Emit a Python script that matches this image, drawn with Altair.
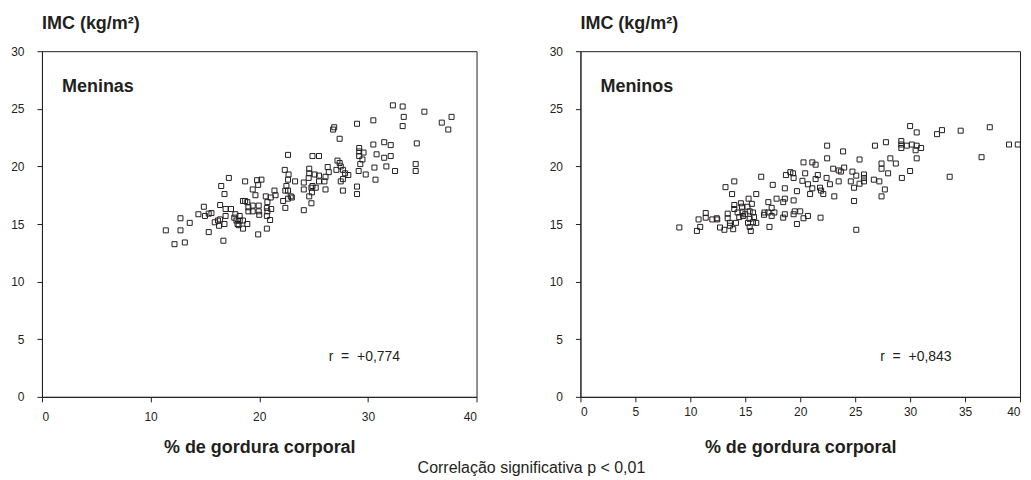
import altair as alt
import pandas as pd

# ---- Data (Meninas / girls) ----
girls_x = [22.65, 22.35, 22.7, 22.65, 23.3, 22.5, 22.65, 22.4, 22.2, 22.65, 23.0, 22.9, 22.4,
           17.2, 16.5, 16.8, 18.7, 19.8, 20.2, 19.9, 19.4, 19.65, 21.4, 21.5, 21.05, 20.6,
           18.5, 18.7, 18.9, 20.75, 19.0, 19.4, 19.95, 20.7, 21.1, 19.95, 20.0, 20.75, 19.0,
           19.4, 20.7, 21.0, 20.7, 19.9, 14.9, 16.4, 16.9, 17.4, 14.4, 15.0, 15.35, 15.6,
           12.75, 13.6, 16.9, 16.4, 16.2, 15.9, 16.8, 16.3, 17.8, 18.2, 17.7, 17.9, 18.2,
           18.5, 18.0, 18.1, 18.9, 18.5, 11.4, 12.75, 15.35, 13.15, 12.2, 16.7,
           32.3, 33.2, 35.2, 37.7, 36.8, 37.4, 33.3, 33.2, 30.5, 29.0, 26.9, 26.8, 27.4,
           30.5, 31.5, 32.1, 34.5, 29.2, 29.2, 29.6, 29.2, 29.5, 29.3, 30.8, 31.5, 32.1,
           30.6, 31.7, 32.5, 34.4, 34.4, 29.15, 29.8, 30.7, 29.0, 29.0, 24.9, 25.5, 27.2,
           27.4, 26.3, 27.1, 27.5, 27.7, 27.9, 28.2, 26.4, 27.7, 27.5, 24.6, 24.6, 25.1,
           25.5, 26.1, 24.55, 25.5, 26.0, 24.1, 24.9, 25.2, 24.8, 24.1, 24.85, 26.1, 27.7,
           24.6, 24.8, 24.1]
girls_y = [21.0, 19.7, 19.3, 18.85, 18.7, 18.3, 17.9, 17.9, 17.0, 17.2, 17.3, 17.4, 16.4,
           19.0, 18.3, 17.6, 18.7, 18.8, 18.85, 18.4, 18.0, 17.5, 17.9, 17.5, 17.3, 17.4,
           17.0, 17.0, 16.9, 16.9, 16.45, 16.6, 16.6, 16.4, 16.3, 16.1, 15.8, 16.1, 16.1,
           16.1, 15.7, 15.35, 14.6, 14.1, 16.5, 16.65, 16.3, 16.3, 15.85, 15.7, 15.9, 15.95,
           15.5, 15.1, 15.7, 15.4, 15.3, 15.15, 15.0, 14.85, 15.85, 15.7, 15.55, 15.3, 15.3,
           15.3, 15.0, 14.9, 15.0, 14.6, 14.45, 14.45, 14.3, 13.4, 13.25, 13.55,
           25.3, 25.2, 24.75, 24.3, 23.8, 23.2, 24.3, 23.5, 24.0, 23.7, 23.4, 23.2, 22.4,
           21.9, 22.1, 21.85, 22.0, 21.6, 21.3, 21.2, 20.9, 20.6, 20.2, 21.05, 20.75, 20.9,
           19.9, 20.0, 19.6, 20.2, 19.6, 19.6, 19.3, 18.85, 18.25, 17.6, 20.9, 20.9, 20.5,
           20.3, 19.95, 19.7, 20.0, 19.7, 19.4, 19.25, 19.5, 18.9, 18.7, 19.8, 19.4, 19.3,
           19.2, 19.1, 19.0, 18.7, 18.7, 18.6, 18.3, 18.15, 18.15, 18.0, 17.75, 18.0, 17.9,
           17.4, 16.8, 16.2]

# ---- Data (Meninos / boys) ----
boys_x = [22.45, 22.45, 20.3, 21.1, 21.4, 23.0, 18.7, 19.1, 19.35, 19.4, 20.45, 21.6, 21.4,
          22.4, 22.7, 20.2, 20.7, 21.1, 21.8, 21.9, 22.1, 20.9, 23.1, 16.45, 17.5, 18.6,
          19.7, 14.0, 13.2, 13.8, 16.0, 15.3, 17.85, 18.6, 18.45, 19.4, 17.1, 14.0, 14.6,
          14.7, 15.2, 15.6, 14.0, 14.3, 14.75, 15.4, 15.7, 15.0, 14.45, 14.8, 15.8, 15.4,
          13.4, 13.4, 11.4, 11.4, 10.75, 12.0, 12.4, 12.45, 13.6, 14.15, 15.25, 15.7, 16.0,
          16.75, 16.7, 17.1, 17.4, 17.4, 17.65, 18.45, 18.6, 19.4, 19.5, 20.0, 20.3, 20.7,
          19.7, 21.85, 9.0, 10.9, 10.6, 12.7, 13.1, 13.6, 13.9, 15.4, 15.5, 17.2,
          30.0, 30.6, 32.45, 32.9, 34.6, 37.25, 39.0, 39.8, 36.5, 33.6, 29.2, 29.2, 29.2,
          29.7, 30.15, 30.6, 30.5, 31.0, 30.6, 27.8, 26.8, 28.2, 28.7, 30.0, 29.25, 28.0,
          27.4, 27.4, 26.7, 27.2, 27.7, 27.4, 25.4, 23.9, 23.5, 23.7, 24.0, 24.75, 25.1,
          25.8, 25.8, 25.8, 25.4, 24.9, 24.6, 23.5, 24.9, 25.1]
boys_y = [21.8, 20.7, 20.35, 20.35, 20.15, 19.8, 19.25, 19.5, 19.4, 19.0, 19.4, 19.25, 18.9,
          19.0, 18.45, 18.75, 18.45, 18.1, 18.15, 17.9, 17.6, 17.6, 17.4, 19.1, 18.4, 18.1,
          17.85, 18.7, 18.2, 17.6, 17.6, 17.2, 17.2, 17.2, 16.9, 17.05, 16.9, 16.65, 16.8,
          16.5, 16.5, 16.75, 16.3, 16.0, 16.0, 16.1, 16.0, 15.85, 15.6, 15.7, 15.6, 15.45,
          15.9, 15.5, 15.95, 15.55, 15.4, 15.4, 15.5, 15.4, 15.1, 15.1, 15.1, 15.15, 15.1,
          16.0, 15.8, 16.0, 16.4, 15.7, 16.0, 15.55, 15.85, 15.85, 16.1, 16.1, 15.5, 15.7,
          15.0, 15.55, 14.7, 14.75, 14.4, 14.7, 14.5, 14.85, 14.55, 14.75, 14.4, 14.75,
          23.5, 22.95, 22.8, 23.15, 23.1, 23.4, 21.9, 21.9, 20.8, 19.1, 22.2, 21.9, 21.6,
          21.8, 21.9, 21.8, 21.4, 21.6, 20.7, 22.1, 21.8, 20.7, 20.25, 19.6, 19.0, 19.4,
          20.25, 19.8, 18.85, 18.7, 18.0, 17.4, 20.6, 21.3, 19.65, 19.55, 19.9, 19.55, 19.2,
          19.3, 19.0, 18.7, 18.5, 18.15, 18.7, 18.7, 17.0, 14.5]

y_ticks = [0, 5, 10, 15, 20, 25, 30]
girls_x_ticks = [0, 10, 20, 30, 40]
boys_x_ticks = [0, 5, 10, 15, 20, 25, 30, 35, 40]

y_title = "IMC (kg/m²)"
x_title = "% de gordura corporal"
footer = "Correlação significativa p < 0,01"
girls_r = "r\u00a0\u00a0=\u00a0\u00a0+0,774"
boys_r = "r\u00a0\u00a0=\u00a0\u00a0+0,843"

FONT = "Liberation Sans"
INK = "#231f20"

girls = pd.DataFrame({"x": girls_x, "y": girls_y})
boys = pd.DataFrame({"x": boys_x, "y": boys_y})


def panel(df, xticks, label, rtext, width, rx, label_pad, title_pad):
    pts = alt.Chart(df).mark_point(shape="square", filled=False, size=25, strokeWidth=1,
                                   color=INK, opacity=1).encode(
        x=alt.X("x:Q", scale=alt.Scale(domain=[0, 40], nice=False),
                axis=alt.Axis(values=xticks, title=x_title, labelPadding=label_pad,
                              titlePadding=title_pad, format="d")),
        y=alt.Y("y:Q", scale=alt.Scale(domain=[0, 30], nice=False),
                axis=alt.Axis(values=y_ticks, title=None, format="d")),
    )
    one = pd.DataFrame({"name": [label], "r": [rtext]})
    name = alt.Chart(one).mark_text(align="left", baseline="middle", font=FONT,
                                    fontSize=18, fontWeight="bold", color=INK).encode(
        x=alt.value(20), y=alt.value(36), text="name:N")
    r = alt.Chart(one).mark_text(align="left", baseline="middle", font=FONT,
                                 fontSize=14, color=INK).encode(
        x=alt.value(rx), y=alt.value(306), text="r:N")
    return alt.layer(pts, name, r).properties(
        width=width, height=346,
        title=alt.TitleParams(y_title, anchor="start", frame="group", fontSize=18,
                              fontWeight="bold", font=FONT, color=INK, offset=12),
    )


left = panel(girls, girls_x_ticks, "Meninas", girls_r, 435, 287, 10, 16)
right = panel(boys, boys_x_ticks, "Meninos", boys_r, 440, 300, 5, 21)

chart = alt.hconcat(left, right, spacing=71).properties(
    title=alt.TitleParams(footer, orient="bottom", anchor="middle", fontSize=16,
                          fontWeight="normal", font=FONT, color=INK, offset=3, dx=15),
    padding={"left": 2, "top": 6, "right": 0, "bottom": 0},
).configure_view(stroke=INK, strokeWidth=1).configure_axis(
    domainColor=INK, tickColor=INK, tickSize=5, labelFont=FONT, labelFontSize=12,
    labelColor=INK, titleFont=FONT, titleFontSize=18, titleFontWeight="bold",
    titleColor=INK, grid=False, labelPadding=13,
).configure_axisY(labelPadding=13)

chart.save("out.html", embed_options={"renderer": "svg", "actions": False})
